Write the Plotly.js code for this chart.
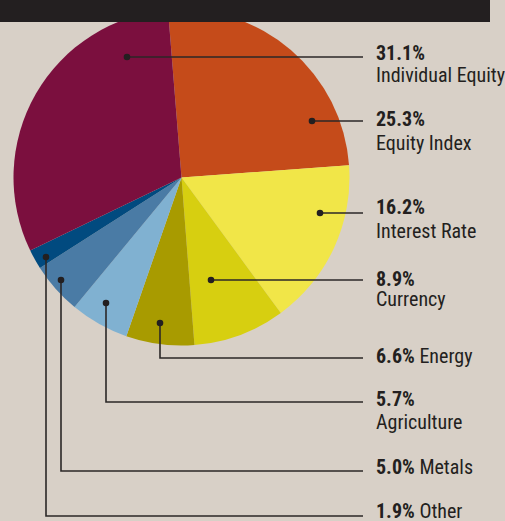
<!DOCTYPE html>
<html>
<head>
<meta charset="utf-8">
<script src="https://cdn.plot.ly/plotly-3.0.1.min.js"></script>
<style>
  html, body { margin: 0; padding: 0; background: #d8d0c7; }
  #chart { width: 505px; height: 521px; }
</style>
</head>
<body>
<div id="chart"></div>
<script>
// ---- data ----
const categories = ['Equity Index', 'Interest Rate', 'Currency', 'Energy', 'Agriculture', 'Metals', 'Other', 'Individual Equity'];
const shares = [25.3, 16.2, 8.9, 6.6, 5.7, 5.0, 1.9, 31.1];
const sliceColors = ['#c54b1a', '#f1e648', '#d7cf10', '#a89b00', '#80b1d1', '#4a7ba5', '#014a7f', '#7b0f3e'];

// ---- label placement (pixels in the 505x521 page) ----
// dot: [x, y] point on the pie; lineY: y of horizontal leader; pctTop: cap top of % text;
// nameTop: cap top of second line (null = name on same line)
const labelPlacement = {
  'Individual Equity': {dot: [127, 57],  lineY: 57,  pctTop: 47,  nameTop: 69},
  'Equity Index':      {dot: [312, 121], lineY: 121, pctTop: 113, nameTop: 137},
  'Interest Rate':     {dot: [320, 213], lineY: 213, pctTop: 201, nameTop: 225},
  'Currency':          {dot: [211, 280], lineY: 280, pctTop: 273, nameTop: 293},
  'Energy':            {dot: [160, 323], lineY: 358, pctTop: 350, nameTop: null},
  'Agriculture':       {dot: [106, 303], lineY: 402, pctTop: 393, nameTop: 416},
  'Metals':            {dot: [61, 280],  lineY: 471, pctTop: 461, nameTop: null},
  'Other':             {dot: [46, 257],  lineY: 516, pctTop: 505, nameTop: null}
};

const W = 505, H = 521;
const px = x => x / W;
const py = y => 1 - y / H;

const FONT = '"Roboto Condensed", "Liberation Sans Narrow", "Arial Narrow", Roboto, sans-serif';
const INK = '#231f20';
const FS = 20;
const CAP_OFFSET = 7; // box top to cap top

const shapes = [];
const annotations = [];

// black band at top
shapes.push({type: 'rect', xref: 'paper', yref: 'paper', layer: 'above',
  x0: 0, x1: px(490), y0: py(0), y1: py(22),
  fillcolor: '#231f20', line: {width: 0}});

const lineEndX = 363;
const textX = 375;

categories.forEach((cat, i) => {
  const p = labelPlacement[cat];
  const [dx, dy] = p.dot;
  let path;
  if (Math.abs(dy - p.lineY) < 0.5) {
    path = `M ${px(dx)},${py(dy)} L ${px(lineEndX)},${py(p.lineY)}`;
  } else {
    path = `M ${px(dx)},${py(dy)} L ${px(dx)},${py(p.lineY)} L ${px(lineEndX)},${py(p.lineY)}`;
  }
  shapes.push({type: 'path', xref: 'paper', yref: 'paper', layer: 'above',
    path: path, line: {color: '#2b2727', width: 1.6}});
  const r = 3.3;
  shapes.push({type: 'circle', xref: 'paper', yref: 'paper', layer: 'above',
    x0: px(dx - r), x1: px(dx + r), y0: py(dy + r), y1: py(dy - r),
    fillcolor: INK, line: {width: 0}});

  const pct = shares[i].toFixed(1) + '%';
  const firstLine = p.nameTop === null ? `<b>${pct}</b> ${cat}` : `<b>${pct}</b>`;
  annotations.push({xref: 'paper', yref: 'paper', x: px(textX), y: py(p.pctTop - CAP_OFFSET),
    xanchor: 'left', yanchor: 'top', showarrow: false, align: 'left', borderpad: 0,
    text: firstLine, font: {family: FONT, size: FS, color: INK}});
  if (p.nameTop !== null) {
    annotations.push({xref: 'paper', yref: 'paper', x: px(textX), y: py(p.nameTop - CAP_OFFSET),
      xanchor: 'left', yanchor: 'top', showarrow: false, align: 'left', borderpad: 0,
      text: cat, font: {family: FONT, size: FS, color: INK}});
  }
});

const trace = {
  type: 'pie',
  labels: categories,
  values: shares,
  sort: false,
  direction: 'clockwise',
  rotation: -4.6,
  marker: {colors: sliceColors, line: {width: 0}},
  textinfo: 'none',
  hoverinfo: 'none',
  domain: {x: [13.5 / W, 349.5 / W], y: [1 - 345.5 / H, 1 - 9.5 / H]}
};

const layout = {
  width: W, height: H,
  margin: {l: 0, r: 0, t: 0, b: 0},
  paper_bgcolor: '#d8d0c7',
  plot_bgcolor: '#d8d0c7',
  showlegend: false,
  shapes: shapes,
  annotations: annotations
};

Plotly.newPlot('chart', [trace], layout, {staticPlot: true, displayModeBar: false});
</script>
</body>
</html>
